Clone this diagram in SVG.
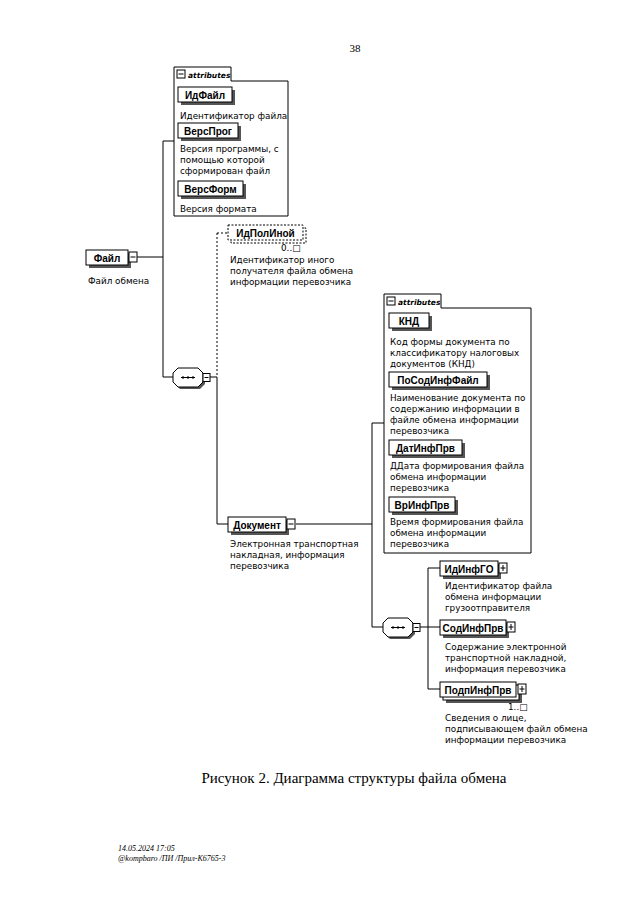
<svg xmlns="http://www.w3.org/2000/svg" width="640" height="905" viewBox="0 0 640 905">
<style>
.lbl{font-family:"Liberation Sans",Arial,sans-serif;font-size:10px;font-weight:bold;text-anchor:middle;fill:#000}
.t{font-family:"DejaVu Sans",Verdana,sans-serif;font-size:8.8px;fill:#000}
.box{fill:#fff;stroke:#000;stroke-width:1}
.dbox{fill:#fff;stroke:#000;stroke-width:1;stroke-dasharray:2,1.5}
.sh{fill:#555}
.ln{stroke:#000;stroke-width:1;fill:none}
.dl{stroke:#000;stroke-width:1;fill:none;stroke-dasharray:2,2}
.tab{font-family:"DejaVu Sans",Verdana,sans-serif;font-size:7.5px;font-style:italic;font-weight:bold;fill:#000}
.serif{font-family:"Liberation Serif","Times New Roman",serif;fill:#000}
</style>
<defs>
<g id="minus"><rect x="0" y="0" width="8" height="8" class="box"/><line x1="1.5" y1="4" x2="6.5" y2="4" class="ln"/></g>
<g id="emin"><rect x="0" y="0" width="8" height="10" class="box"/><line x1="1.5" y1="5" x2="6.5" y2="5" class="ln"/></g>
<g id="eplus"><rect x="0" y="0" width="8" height="10" class="box"/><line x1="1.5" y1="5" x2="6.5" y2="5" class="ln"/><line x1="4" y1="2" x2="4" y2="8" class="ln"/></g>
<g id="seq">
<path d="M7,2 H27 L32,7 V16 L27,21 H7 L2,16 V7 Z" class="sh"/>
<path d="M5,0 H25 L30,5 V14 L25,19 H5 L0,14 V5 Z" class="box"/>
<line x1="8" y1="9.5" x2="22" y2="9.5" class="ln"/>
<rect x="9" y="8.5" width="2" height="2" fill="#000"/><rect x="14" y="8.5" width="2" height="2" fill="#000"/><rect x="19" y="8.5" width="2" height="2" fill="#000"/>
<rect x="30" y="5.5" width="7" height="8" class="box"/><line x1="31.5" y1="9.5" x2="35.5" y2="9.5" class="ln"/>
</g>
</defs>
<rect width="640" height="905" fill="#fff"/>
<text x="355" y="52" class="serif" font-size="11" text-anchor="middle">38</text>

<g id="connectors">
<line x1="163" y1="141" x2="174" y2="141" class="ln"/>
<line x1="137" y1="257" x2="163" y2="257" class="ln"/>
<line x1="163" y1="141" x2="163" y2="377" class="ln"/>
<line x1="163" y1="377" x2="173" y2="377" class="ln"/>
<line x1="210" y1="377" x2="217" y2="377" class="ln"/>
<line x1="217" y1="233" x2="217" y2="377" class="dl"/>
<line x1="217" y1="233" x2="228" y2="233" class="dl"/>
<line x1="217" y1="377" x2="217" y2="524" class="ln"/>
<line x1="217" y1="524" x2="228" y2="524" class="ln"/>
<line x1="296" y1="524" x2="372" y2="524" class="ln"/>
<line x1="372" y1="423" x2="384" y2="423" class="ln"/>
<line x1="372" y1="423" x2="372" y2="627" class="ln"/>
<line x1="372" y1="627" x2="383" y2="627" class="ln"/>
<line x1="420" y1="627" x2="428" y2="627" class="ln"/>
<line x1="428" y1="568" x2="428" y2="689" class="ln"/>
<line x1="428" y1="568" x2="440" y2="568" class="ln"/>
<line x1="428" y1="627" x2="440" y2="627" class="ln"/>
<line x1="428" y1="689" x2="440" y2="689" class="ln"/>
</g>

<g id="attributes-file">
<path d="M174,216 V67 H231 V81 H288 V216 Z" class="box"/>
<use href="#minus" x="177" y="70"/>
<text x="188" y="78" class="tab">attributes</text>
<g id="IdFile">
<rect x="181" y="90" width="54" height="15" class="sh"/>
<rect x="178" y="87" width="54" height="15" class="box"/>
<text x="205" y="98.5" class="lbl">ИдФайл</text>
<text x="180" y="119" class="t">Идентификатор файла</text>
</g>
<g id="VersProg">
<rect x="181" y="126" width="60" height="15" class="sh"/>
<rect x="178" y="123" width="60" height="15" class="box"/>
<text x="208" y="134.5" class="lbl">ВерсПрог</text>
<text x="180" y="152" class="t">Версия программы, с</text>
<text x="180" y="163" class="t">помощью которой</text>
<text x="180" y="174" class="t">сформирован файл</text>
</g>
<g id="VersForm">
<rect x="181" y="184" width="65" height="15" class="sh"/>
<rect x="178" y="181" width="65" height="15" class="box"/>
<text x="210.5" y="192.5" class="lbl">ВерсФорм</text>
<text x="180" y="212" class="t">Версия формата</text>
</g>
</g>

<g id="File">
<rect x="89" y="253" width="42" height="15" class="sh"/>
<rect x="86" y="250" width="42" height="15" class="box"/>
<text x="107" y="261.5" class="lbl">Файл</text>
<use href="#emin" x="129" y="252"/>
<text x="88" y="284" class="t">Файл обмена</text>
</g>

<g id="seq1"><use href="#seq" x="173" y="368"/></g>

<g id="IdPolInoy">
<rect x="231" y="228" width="75" height="15" class="dbox"/>
<rect x="228" y="225" width="75" height="15" class="dbox"/>
<text x="265.5" y="236.5" class="lbl">ИдПолИной</text>
<text x="281" y="251" class="t" font-size="8">0..□</text>
<text x="230" y="263" class="t">Идентификатор иного</text>
<text x="230" y="274" class="t">получателя файла обмена</text>
<text x="230" y="285" class="t">информации перевозчика</text>
</g>

<g id="attributes-doc">
<path d="M384,553 V294 H441 V308 H531 V553 Z" class="box"/>
<use href="#minus" x="387" y="297"/>
<text x="398" y="305" class="tab">attributes</text>
<g id="KND">
<rect x="392" y="316" width="40" height="15" class="sh"/>
<rect x="389" y="313" width="40" height="15" class="box"/>
<text x="409" y="324.5" class="lbl">КНД</text>
<text x="390" y="345" class="t">Код формы документа по</text>
<text x="390" y="356" class="t">классификатору налоговых</text>
<text x="390" y="367" class="t">документов (КНД)</text>
</g>
<g id="PoSodInfFile">
<rect x="392" y="375" width="98" height="15" class="sh"/>
<rect x="389" y="372" width="98" height="15" class="box"/>
<text x="438" y="383.5" class="lbl">ПоСодИнфФайл</text>
<text x="390" y="401" class="t">Наименование документа по</text>
<text x="390" y="412" class="t">содержанию информации в</text>
<text x="390" y="423" class="t">файле обмена информации</text>
<text x="390" y="434" class="t">перевозчика</text>
</g>
<g id="DatInfPrv">
<rect x="392" y="443" width="73" height="15" class="sh"/>
<rect x="389" y="440" width="73" height="15" class="box"/>
<text x="425.5" y="451.5" class="lbl">ДатИнфПрв</text>
<text x="390" y="469" class="t">ДДата формирования файла</text>
<text x="390" y="480" class="t">обмена информации</text>
<text x="390" y="491" class="t">перевозчика</text>
</g>
<g id="VrInfPrv">
<rect x="392" y="500" width="66" height="15" class="sh"/>
<rect x="389" y="497" width="66" height="15" class="box"/>
<text x="422" y="508.5" class="lbl">ВрИнфПрв</text>
<text x="390" y="525" class="t">Время формирования файла</text>
<text x="390" y="536" class="t">обмена информации</text>
<text x="390" y="547" class="t">перевозчика</text>
</g>
</g>

<g id="Document">
<rect x="231" y="520" width="58" height="15" class="sh"/>
<rect x="228" y="517" width="58" height="15" class="box"/>
<text x="257" y="528.5" class="lbl">Документ</text>
<use href="#emin" x="287" y="519"/>
<text x="230" y="547" class="t">Электронная транспортная</text>
<text x="230" y="558" class="t">накладная, информация</text>
<text x="230" y="569" class="t">перевозчика</text>
</g>

<g id="seq2"><use href="#seq" x="383" y="618"/></g>

<g id="IdInfGO">
<rect x="443" y="564" width="58" height="15" class="sh"/>
<rect x="440" y="561" width="58" height="15" class="box"/>
<text x="469" y="572.5" class="lbl">ИдИнфГО</text>
<use href="#eplus" x="499" y="563"/>
<text x="445" y="589" class="t">Идентификатор файла</text>
<text x="445" y="600" class="t">обмена информации</text>
<text x="445" y="611" class="t">грузоотправителя</text>
</g>

<g id="SodInfPrv">
<rect x="443" y="623" width="66" height="15" class="sh"/>
<rect x="440" y="620" width="66" height="15" class="box"/>
<text x="473" y="631.5" class="lbl">СодИнфПрв</text>
<use href="#eplus" x="507" y="622"/>
<text x="445" y="650" class="t">Содержание электронной</text>
<text x="445" y="661" class="t">транспортной накладной,</text>
<text x="445" y="672" class="t">информация перевозчика</text>
</g>

<g id="PodpInfPrv">
<rect x="446" y="688" width="76" height="15" class="sh"/>
<rect x="443" y="685" width="76" height="15" class="box"/>
<rect x="440" y="682" width="76" height="15" class="box"/>
<text x="478" y="693.5" class="lbl">ПодпИнфПрв</text>
<use href="#eplus" x="518" y="684"/>
<text x="508" y="710" class="t" font-size="8">1..□</text>
<text x="445" y="721" class="t">Сведения о лице,</text>
<text x="445" y="732" class="t">подписывающем файл обмена</text>
<text x="445" y="743" class="t">информации перевозчика</text>
</g>

<text x="354" y="783" class="serif" font-size="15" text-anchor="middle">Рисунок 2. Диаграмма структуры файла обмена</text>
<text x="118" y="851" class="serif" font-size="8" font-style="italic">14.05.2024 17:05</text>
<text x="118" y="861" class="serif" font-size="8" font-style="italic">@kompbaro /ПИ /Прил-К6765-3</text>
</svg>
